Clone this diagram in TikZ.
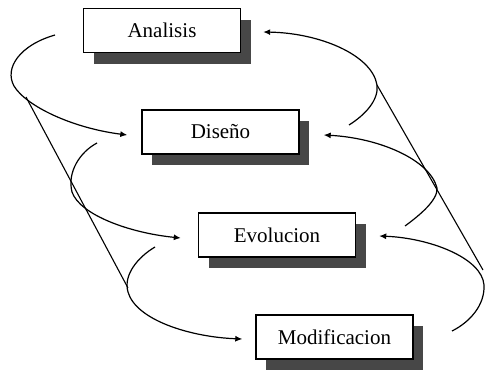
\documentclass[tikz,border=0pt]{standalone}
\usepackage{fontspec}
\setmainfont{Liberation Serif}
\usetikzlibrary{arrows.meta,shadows}
\begin{document}
\begin{tikzpicture}[x=1pt,y=-1pt,
  stage/.style={draw=black, line width=1.4pt, fill=white, rectangle,
    minimum width=157pt, minimum height=44pt, inner sep=0pt,
    font=\fontsize{21}{24}\selectfont,
    drop shadow={shadow xshift=10pt, shadow yshift=-11pt, fill=black!72, opacity=1}},
  flow/.style={line width=1.2pt, -{Latex[length=7pt,width=6pt]}},
  spine/.style={line width=1.1pt}]
\useasboundingbox (0,0) rectangle (485,372);
\node[stage] (a) at (162,30.5) {Analisis};
\node[stage] (d) at (220.5,132) {Diseño};
\node[stage] (e) at (277,235) {Evolucion};
\node[stage] (m) at (334.5,337) {Modificacion};
% free ends
\coordinate (l1) at (55,35);
\coordinate (l2) at (97,143);
\coordinate (l3) at (155,247);
\coordinate (r1) at (349,125);
\coordinate (r2) at (405,226);
\coordinate (r3) at (452,331);
\coordinate (ls) at (26,97);
\coordinate (le) at (128,288);
\coordinate (rs) at (377,85);
\coordinate (re) at (483,270);
% left side
\draw[flow] (l1) .. controls (20,45) and (4,68) .. (14,86)
  .. controls (26,106) and (72,128) .. ([xshift=-14pt,yshift=-3pt]d.west);
\draw[flow] (l2) .. controls (80,152) and (67,172) .. (72,192)
  .. controls (80,215) and (130,233) .. ([xshift=-17pt,yshift=-3pt]e.west);
\draw[flow] (l3) .. controls (138,257) and (123,275) .. (128,292)
  .. controls (136,320) and (190,337) .. ([xshift=-13pt,yshift=-2pt]m.west);
\draw[spine] (ls) -- (le);
% right side
\draw[flow] (r1) .. controls (365,115) and (379,100) .. (377,85)
  .. controls (372,55) and (320,33) .. ([xshift=22pt,yshift=-1.5pt]a.east);
\draw[flow] (r2) .. controls (420,215) and (438,200) .. (437,188)
  .. controls (430,160) and (380,138) .. ([xshift=24pt,yshift=-3pt]d.east);
\draw[flow] (r3) .. controls (470,322) and (485,305) .. (484,285)
  .. controls (482,258) and (430,238) .. ([xshift=23pt,yshift=-1pt]e.east);
\draw[spine] (rs) -- (re);
\end{tikzpicture}
\end{document}
